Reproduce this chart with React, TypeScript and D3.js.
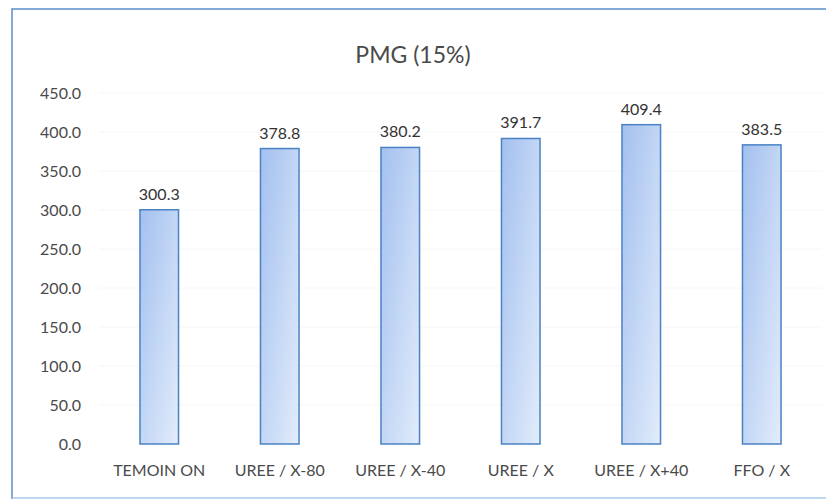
import React from "react";
import * as d3 from "d3";

const categories = ["TEMOIN ON", "UREE / X-80", "UREE / X-40", "UREE / X", "UREE / X+40", "FFO / X"];
const values = [300.3, 378.8, 380.2, 391.7, 409.4, 383.5];
const yTicks = [0, 50, 100, 150, 200, 250, 300, 350, 400, 450];
const title = "PMG (15%)";

const W = 826;
const H = 499;
const FONT = "Lato, 'Open Sans', sans-serif";

export default function App() {
  const x = d3.scaleBand<string>().domain(categories).range([99, 822]).paddingInner(0.68).paddingOuter(0.34);
  const y = d3.scaleLinear().domain([0, 450]).range([444, 93]);
  const fmt = d3.format(".1f");
  return (
    <svg width={W} height={H} style={{ position: "absolute", left: 0, top: 0, background: "#fff" }}>
      <defs>
        <linearGradient id="barg" x1="0" y1="0" x2="1" y2="1">
          <stop offset="0%" stopColor="#a3c0ef" />
          <stop offset="100%" stopColor="#e2ecfb" />
        </linearGradient>
      </defs>
      <rect x={0} y={0} width={W} height={H} fill="#fff" />
      <path d={`M12,${H} L12,9 L${W},9`} fill="none" stroke="#5b8fc9" strokeWidth={1.5} />
      <line x1={12} x2={W} y1={H - 1} y2={H - 1} stroke="#a9c8ea" strokeWidth={1.5} />
      <text x={413} y={63} textAnchor="middle" fontFamily={FONT} fontSize={23} fill="#4a4a4a">{title}</text>
      {yTicks.map((t) => (
        <g key={t}>
          {t > 0 && <line x1={99} x2={822} y1={y(t)} y2={y(t)} stroke="#f6f6f6" strokeWidth={1} />}
          <text x={81} y={y(t)} dy="0.35em" textAnchor="end" fontFamily={FONT} fontSize={16} fill="#4a4a4a">{fmt(t)}</text>
        </g>
      ))}
      {categories.map((c, i) => {
        const bx = x(c)!;
        const bw = x.bandwidth();
        return (
          <g key={c}>
            <rect x={bx} y={y(values[i])} width={bw} height={y(0) - y(values[i])} fill="url(#barg)" stroke="#4a82c3" strokeWidth={1.5} />
            <text x={bx + bw / 2} y={y(values[i]) - 10} textAnchor="middle" fontFamily={FONT} fontSize={16} fill="#333">{fmt(values[i])}</text>
            <text x={bx + bw / 2} y={476} textAnchor="middle" fontFamily={FONT} fontSize={16} fill="#4a4a4a">{c}</text>
          </g>
        );
      })}
    </svg>
  );
}
